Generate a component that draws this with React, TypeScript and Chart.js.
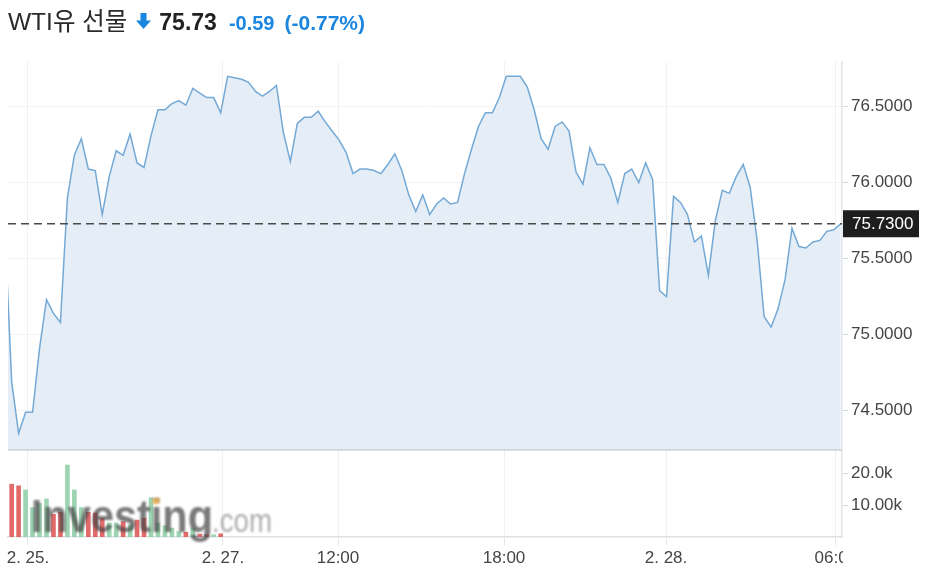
import React, { useEffect, useRef } from 'react';
import { Chart, registerables } from 'chart.js';

Chart.register(...registerables);

// ---- data ----
const priceValues = [
  75.72, 74.69, 74.35, 74.49, 74.49, 74.91, 75.23, 75.14, 75.08, 75.90,
  76.18, 76.29, 76.09, 76.08, 75.79, 76.04, 76.21, 76.18, 76.32, 76.13,
  76.10, 76.31, 76.48, 76.48, 76.52, 76.54, 76.51, 76.62, 76.59, 76.56,
  76.56, 76.46, 76.70, 76.69, 76.68, 76.66, 76.60, 76.57, 76.60, 76.64,
  76.33, 76.14, 76.39, 76.43, 76.43, 76.47, 76.40, 76.34, 76.28, 76.20,
  76.06, 76.09, 76.09, 76.08, 76.06, 76.12, 76.19, 76.08, 75.92, 75.81,
  75.92, 75.79, 75.86, 75.90, 75.86, 75.87, 76.06, 76.22, 76.37, 76.46,
  76.46, 76.56, 76.70, 76.70, 76.70, 76.63, 76.48, 76.29, 76.22, 76.37,
  76.40, 76.34, 76.07, 75.99, 76.23, 76.12, 76.12, 76.03, 75.87, 76.06,
  76.09, 76.00, 76.13, 76.02, 75.29, 75.25, 75.91, 75.87, 75.79, 75.61,
  75.65, 75.39, 75.75, 75.95, 75.93, 76.04, 76.12, 75.97, 75.62, 75.12,
  75.05, 75.17, 75.36, 75.70, 75.58, 75.57, 75.61, 75.62, 75.68, 75.69,
  75.73,
];

const volumeStartIndex = 1;
const volumeValues = [
  16500, 16000, 14700, 9200, 10500, 11900, 7100, 7700, 22500, 14700,
  9200, 7700, 7500, 5800, 4400, 4400, 4800, 3800, 5300, 5900,
  12300, 4400, 3500, 2800, 1700, 1500, 2800, 900, 700, 700, 1000,
];

const xTickPositions = [3.34, 31.33, 47.84, 71.67, 94.92, 119.3];
const xTickLabels = ['2. 25.', '2. 27.', '12:00', '18:00', '2. 28.', '06:00'];

const priceTicks = [74.5, 75.0, 75.5, 76.0, 76.5];
const volumeTicks = [10000, 20000];
const volumeTickLabels = ['10.00k', '20.0k'];

const lastPrice = 75.73;

// ---- styles ----
const FONT = '"Liberation Sans", Arial, sans-serif';
const AXIS_TEXT = '#454545';
const BLUE = '#1a86e0';

const decorPlugin = {
  id: 'decor',
  afterDatasetsDraw(chart: any) {
    const { ctx, chartArea, scales } = chart;
    const y = scales.y;
    // separator between price pane and volume pane
    ctx.save();
    ctx.strokeStyle = '#cdd1d6';
    ctx.lineWidth = 1.5;
    ctx.beginPath();
    ctx.moveTo(chartArea.left, y.bottom);
    ctx.lineTo(chartArea.right, y.bottom);
    ctx.stroke();
    ctx.restore();

    // last price dashed line
    const py = y.getPixelForValue(lastPrice);
    ctx.save();
    ctx.strokeStyle = '#4a4a4a';
    ctx.lineWidth = 1.3;
    ctx.setLineDash([8, 5]);
    ctx.beginPath();
    ctx.moveTo(chartArea.left, py);
    ctx.lineTo(chartArea.right, py);
    ctx.stroke();
    ctx.restore();

    // watermark
    ctx.save();
    ctx.filter = 'blur(0.9px)';
    ctx.textBaseline = 'alphabetic';
    ctx.font = `bold 46px ${FONT}`;
    const w1 = ctx.measureText('Investing').width;
    ctx.save();
    ctx.translate(31, 532);
    ctx.scale(182 / w1, 1);
    ctx.fillStyle = 'rgba(70,70,70,0.72)';
    ctx.fillText('Investing', 0, 0);
    ctx.restore();
    ctx.fillStyle = 'rgba(255,185,80,0.75)';
    ctx.beginPath();
    ctx.ellipse(156, 501, 4, 3.2, -0.4, 0, Math.PI * 2);
    ctx.fill();
    ctx.font = `34px ${FONT}`;
    const w2 = ctx.measureText('.com').width;
    ctx.translate(212, 532);
    ctx.scale(60 / w2, 1);
    ctx.fillStyle = 'rgba(105,105,105,0.55)';
    ctx.fillText('.com', 0, 0);
    ctx.restore();
  },
  afterDraw(chart: any) {
    const { ctx, chartArea, scales } = chart;
    const x = scales.x;
    const y = scales.y;
    // x labels, clipped at plot's right edge
    ctx.save();
    ctx.beginPath();
    ctx.rect(0, x.top, chartArea.right + 1, 60);
    ctx.clip();
    ctx.font = `17px ${FONT}`;
    ctx.fillStyle = AXIS_TEXT;
    ctx.textAlign = 'center';
    ctx.textBaseline = 'alphabetic';
    xTickPositions.forEach((v, i) => {
      ctx.fillText(xTickLabels[i], x.getPixelForValue(v), 563);
    });
    ctx.restore();

    // last price label box
    const py = y.getPixelForValue(lastPrice);
    ctx.save();
    ctx.fillStyle = '#1e1e1e';
    ctx.fillRect(chartArea.right + 1, py - 13.5, 76, 27);
    ctx.fillStyle = '#ffffff';
    ctx.font = `17px ${FONT}`;
    ctx.textBaseline = 'middle';
    ctx.textAlign = 'left';
    ctx.fillText(lastPrice.toFixed(4), chartArea.right + 10, py + 0.5);
    ctx.restore();
  },
};

export default function App() {
  const canvasRef = useRef<HTMLCanvasElement | null>(null);

  useEffect(() => {
    const canvas = canvasRef.current;
    if (!canvas) return;

    const linePoints = priceValues.map((v, i) => ({ x: i, y: v }));
    const barPoints = volumeValues.map((v, k) => ({ x: k + volumeStartIndex, y: v }));
    const barColors = volumeValues.map((_, k) => {
      const i = k + volumeStartIndex;
      return priceValues[i] >= priceValues[i - 1] ? 'rgba(140,205,165,0.85)' : 'rgba(222,80,80,0.85)';
    });

    const chart = new Chart(canvas, {
      type: 'line',
      data: {
        datasets: [
          {
            type: 'line',
            data: linePoints,
            xAxisID: 'x',
            yAxisID: 'y',
            borderColor: '#74a9d6',
            borderWidth: 1.5,
            backgroundColor: '#e5eef6',
            fill: 'start',
            pointRadius: 0,
            tension: 0,
            clip: 0,
          } as any,
          {
            type: 'bar',
            data: barPoints,
            xAxisID: 'x',
            yAxisID: 'yv',
            backgroundColor: barColors,
            barThickness: 4,
            borderWidth: 0,
          } as any,
        ],
      },
      options: {
        responsive: false,
        animation: false,
        devicePixelRatio: 1,
        events: [],
        layout: { padding: { left: 8, top: 62, right: 0, bottom: 0 } },
        plugins: {
          legend: { display: false },
          tooltip: { enabled: false },
          title: { display: false },
        },
        scales: {
          x: {
            type: 'linear',
            position: 'bottom',
            offset: false,
            min: 0.474,
            max: 120.18,
            afterBuildTicks: (s: any) => {
              s.ticks = xTickPositions.map((v) => ({ value: v }));
            },
            afterFit: (s: any) => {
              s.height = 42;
            },
            ticks: { display: false },
            grid: {
              offset: false,
              color: '#eef0f3',
              lineWidth: 1,
              drawTicks: true,
              tickLength: 8,
              tickColor: '#e2e5e9',
            },
            border: { color: '#dde1e6', width: 1.5 },
          },
          y: {
            type: 'linear',
            position: 'right',
            stack: 'panes',
            stackWeight: 388,
            min: 74.2414,
            max: 76.794,
            afterBuildTicks: (s: any) => {
              s.ticks = priceTicks.map((v) => ({ value: v }));
            },
            afterFit: (s: any) => {
              s.width = 86;
            },
            ticks: {
              color: AXIS_TEXT,
              font: { size: 17, family: FONT },
              padding: 3,
              callback: (v: any) => Number(v).toFixed(4),
            },
            grid: {
              color: '#f2f3f5',
              tickLength: 6,
              tickColor: '#d5d8dc',
            },
            border: { color: '#e2e5e9', width: 1.5 },
          },
          yv: {
            type: 'linear',
            position: 'right',
            stack: 'panes',
            stackWeight: 87,
            min: 0,
            max: 27190,
            afterBuildTicks: (s: any) => {
              s.ticks = volumeTicks.map((v) => ({ value: v }));
            },
            afterFit: (s: any) => {
              s.width = 86;
            },
            ticks: {
              color: AXIS_TEXT,
              font: { size: 17, family: FONT },
              padding: 3,
              callback: (v: any) => {
                const idx = volumeTicks.indexOf(Number(v));
                return idx >= 0 ? volumeTickLabels[idx] : '';
              },
            },
            grid: {
              drawOnChartArea: false,
              tickLength: 6,
              tickColor: '#d5d8dc',
            },
            border: { color: '#e2e5e9', width: 1.5 },
          },
        },
      },
      plugins: [decorPlugin],
    });

    return () => chart.destroy();
  }, []);

  const titleFont = `"Liberation Sans", "Noto Sans CJK KR", Arial, sans-serif`;

  return (
    <div style={{ position: 'fixed', left: 0, top: 0, width: 928, height: 579, background: '#fff', overflow: 'hidden' }}>
      <canvas ref={canvasRef} width={928} height={579} style={{ position: 'absolute', left: 0, top: 0, width: 928, height: 579 }} />
      <div
        style={{
          position: 'absolute',
          left: 8,
          top: 10,
          display: 'flex',
          alignItems: 'baseline',
          whiteSpace: 'nowrap',
          fontFamily: titleFont,
          lineHeight: '24px',
        }}
      >
        <span style={{ fontSize: 24.5, color: '#2a2a2a' }}>WTI유 선물</span>
        <svg width="15" height="17" viewBox="0 0 15 17" style={{ marginLeft: 9, display: 'block' }}>
          <rect x="4.5" y="0" width="6" height="8.5" fill={BLUE} />
          <polygon points="0,7.5 15,7.5 7.5,16" fill={BLUE} />
        </svg>
        <span style={{ fontSize: 23, fontWeight: 'bold', color: '#222', marginLeft: 8 }}>75.73</span>
        <span style={{ fontSize: 20, fontWeight: 'bold', color: BLUE, marginLeft: 12 }}>-0.59</span>
        <span style={{ fontSize: 21, fontWeight: 'bold', color: BLUE, marginLeft: 10 }}>(-0.77%)</span>
      </div>
    </div>
  );
}
